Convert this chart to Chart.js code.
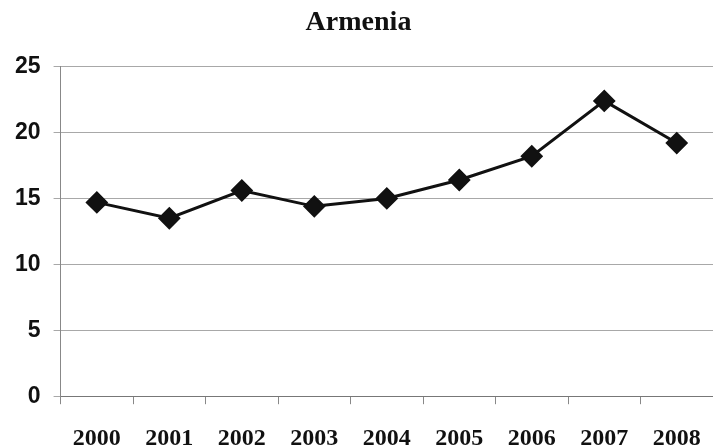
<!DOCTYPE html>
<html>
<head>
<meta charset="utf-8">
<script src="https://cdn.jsdelivr.net/npm/chart.js@4/dist/chart.umd.min.js"></script>
<style>
  html, body { margin: 0; padding: 0; background: #fff; }
  #wrap { width: 713px; height: 448px; }
</style>
</head>
<body>
<div id="wrap"><canvas id="myChart"></canvas></div>
<script>
const years = ['2000', '2001', '2002', '2003', '2004', '2005', '2006', '2007', '2008'];
const values = [14.7, 13.5, 15.6, 14.4, 15.0, 16.4, 18.2, 22.4, 19.2];
const yTicks = [0, 5, 10, 15, 20, 25];

const ctx = document.getElementById('myChart');

new Chart(ctx, {
  type: 'line',
  data: {
    labels: years,
    datasets: [
      {
        label: 'Armenia',
        data: values,
        borderColor: '#111',
        borderWidth: 3,
        backgroundColor: '#111',
        pointStyle: 'rectRot',
        pointRadius: 10,
        pointBorderWidth: 2,
        pointBackgroundColor: '#111',
        pointBorderColor: '#111',
        tension: 0,
      },
    ],
  },
  options: {
    responsive: true,
    maintainAspectRatio: false,
    animation: false,
    layout: {
      autoPadding: false,
      padding: { left: 2, right: -2, top: 0, bottom: -25 },
    },
    plugins: {
      legend: { display: false },
      tooltip: { enabled: false },
      title: {
        display: true,
        text: 'Armenia',
        color: '#111',
        font: { family: '"Liberation Serif", serif', size: 28, weight: 'bold' },
        padding: { top: 6, bottom: 27 },
      },
    },
    scales: {
      x: {
        offset: true,
        afterFit: (axis) => {
          axis.paddingRight = 0;
        },
        grid: {
          offset: true,
          drawOnChartArea: false,
          drawTicks: true,
          tickLength: 8,
          color: '#888',
        },
        border: { color: '#777', width: 1 },
        ticks: {
          color: '#111',
          padding: 20,
          maxRotation: 0,
          autoSkip: false,
          font: { family: '"Liberation Serif", serif', size: 24, weight: 'bold' },
        },
      },
      y: {
        min: yTicks[0],
        max: yTicks[yTicks.length - 1],
        afterBuildTicks: (axis) => {
          axis.ticks = yTicks.map((v) => ({ value: v }));
        },
        grid: {
          color: '#a8a8a8',
          tickLength: 7,
        },
        border: { color: '#888', width: 1 },
        ticks: {
          color: '#111',
          padding: 13,
          font: { family: '"Liberation Sans", Arial, sans-serif', size: 23, weight: 'bold' },
        },
      },
    },
  },
});
</script>
</body>
</html>
